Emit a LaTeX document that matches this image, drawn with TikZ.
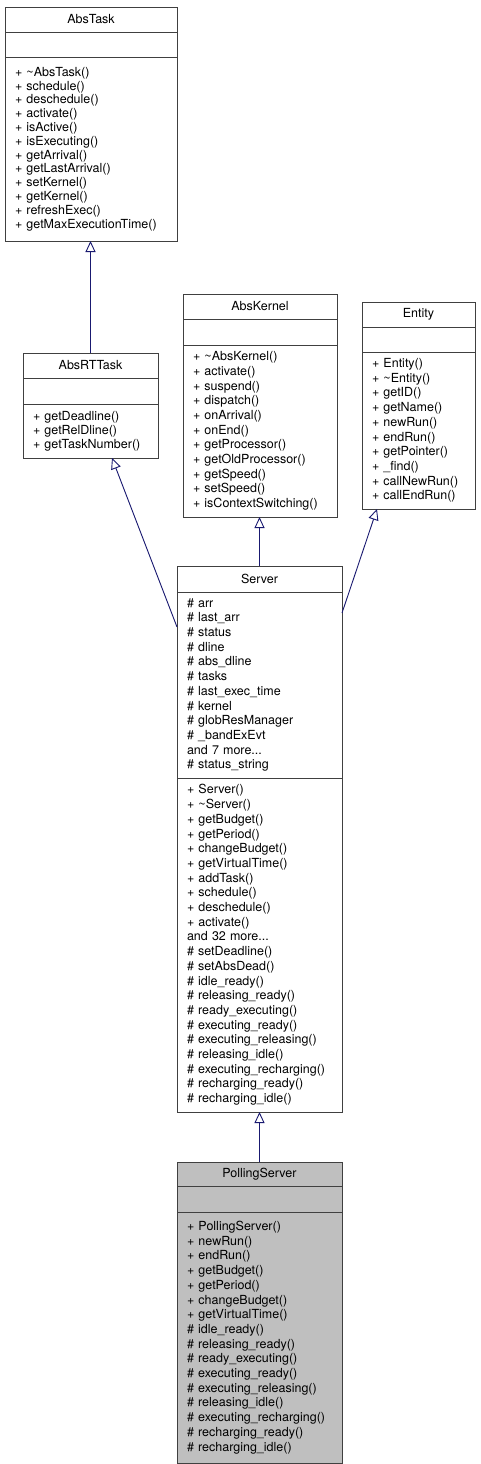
\documentclass[tikz,border=0pt]{standalone}
\usepackage{fontspec}
\setmainfont{TeX Gyre Heros}
\usetikzlibrary{arrows.meta, positioning, calc}
\definecolor{edgeblue}{HTML}{191970}
\definecolor{boxline}{HTML}{404040}
\definecolor{hilite}{HTML}{BFBFBF}
\tikzstyle{classbox} = [rectangle, draw=boxline, line width=0.9pt, fill=white, outer sep=0pt, inner xsep=10pt, inner ysep=0pt, font=\fontsize{12.5}{14.7}\selectfont]
\tikzstyle{classhead} = [classbox, align=center]
\tikzstyle{classbody} = [classbox, align=left]
\tikzstyle{inherit} = [edgeblue, line width=0.9pt, -{Triangle[open, length=11pt, width=10pt]}]

\begin{document}
\begin{tikzpicture}[x=1pt, y=-1pt]
  \useasboundingbox (0,0) rectangle (480,1464);

  % AbsTask
  \node[classhead, anchor=north west, minimum width=172pt, minimum height=25pt] (abstask) at (5,7) {AbsTask};
  \node[classbody, minimum width=172pt, minimum height=25pt, below=0pt of abstask] (abstask-attr) {};
  \node[classbody, text width=152pt, minimum height=184pt, font=\fontsize{12.5}{13.8}\selectfont, below=0pt of abstask-attr] (abstask-ops)
    {+ \textasciitilde AbsTask()\\+ schedule()\\+ deschedule()\\+ activate()\\+ isActive()\\+ isExecuting()\\+ getArrival()\\+ getLastArrival()\\+ setKernel()\\+ getKernel()\\+ refreshExec()\\+ getMaxExecutionTime()};

  % AbsRTTask
  \node[classhead, anchor=north west, minimum width=135pt, minimum height=25pt] (absrttask) at (23,353) {AbsRTTask};
  \node[classbody, minimum width=135pt, minimum height=26pt, below=0pt of absrttask] (absrttask-attr) {};
  \node[classbody, text width=115pt, minimum height=54pt, font=\fontsize{12.5}{14}\selectfont, below=0pt of absrttask-attr] (absrttask-ops)
    {+ getDeadline()\\+ getRelDline()\\+ getTaskNumber()};

  % AbsKernel
  \node[classhead, anchor=north west, minimum width=154pt, minimum height=25pt] (abskernel) at (183,294) {AbsKernel};
  \node[classbody, minimum width=154pt, minimum height=26pt, below=0pt of abskernel] (abskernel-attr) {};
  \node[classbody, text width=134pt, minimum height=172pt, below=0pt of abskernel-attr] (abskernel-ops)
    {+ \textasciitilde AbsKernel()\\+ activate()\\+ suspend()\\+ dispatch()\\+ onArrival()\\+ onEnd()\\+ getProcessor()\\+ getOldProcessor()\\+ getSpeed()\\+ setSpeed()\\+ isContextSwitching()};

  % Entity
  \node[classhead, anchor=north west, minimum width=113pt, minimum height=25pt] (entity) at (362,302) {Entity};
  \node[classbody, minimum width=113pt, minimum height=25pt, below=0pt of entity] (entity-attr) {};
  \node[classbody, text width=93pt, minimum height=157pt, below=0pt of entity-attr] (entity-ops)
    {+ Entity()\\+ \textasciitilde Entity()\\+ getID()\\+ getName()\\+ newRun()\\+ endRun()\\+ getPointer()\\+ \_find()\\+ callNewRun()\\+ callEndRun()};

  % Server
  \node[classhead, anchor=north west, minimum width=165pt, minimum height=26pt] (server) at (177,566) {Server};
  \node[classbody, text width=145pt, minimum height=186pt, below=0pt of server] (server-attr)
    {\# arr\\\# last\_arr\\\# status\\\# dline\\\# abs\_dline\\\# tasks\\\# last\_exec\_time\\\# kernel\\\# globResManager\\\# \_bandExEvt\\and 7 more...\\\# status\_string};
  \node[classbody, text width=145pt, minimum height=334pt, below=0pt of server-attr] (server-ops)
    {+ Server()\\+ \textasciitilde Server()\\+ getBudget()\\+ getPeriod()\\+ changeBudget()\\+ getVirtualTime()\\+ addTask()\\+ schedule()\\+ deschedule()\\+ activate()\\and 32 more...\\\# setDeadline()\\\# setAbsDead()\\\# idle\_ready()\\\# releasing\_ready()\\\# ready\_executing()\\\# executing\_ready()\\\# executing\_releasing()\\\# releasing\_idle()\\\# executing\_recharging()\\\# recharging\_ready()\\\# recharging\_idle()};

  % PollingServer
  \node[classhead, fill=hilite, anchor=north west, minimum width=165pt, minimum height=24pt] (pollingserver) at (177,1162) {PollingServer};
  \node[classbody, fill=hilite, minimum width=165pt, minimum height=26pt, below=0pt of pollingserver] (pollingserver-attr) {};
  \node[classbody, fill=hilite, text width=145pt, minimum height=251pt, below=0pt of pollingserver-attr] (pollingserver-ops)
    {+ PollingServer()\\+ newRun()\\+ endRun()\\+ getBudget()\\+ getPeriod()\\+ changeBudget()\\+ getVirtualTime()\\\# idle\_ready()\\\# releasing\_ready()\\\# ready\_executing()\\\# executing\_ready()\\\# executing\_releasing()\\\# releasing\_idle()\\\# executing\_recharging()\\\# recharging\_ready()\\\# recharging\_idle()};

  % inheritance
  \draw[inherit] (absrttask.north) -- (abstask-ops.south -| absrttask.north);
  \draw[inherit] ($(server-attr.north west)+(0,35)$) -- ($(absrttask-ops.south)+(21.5,0)$);
  \draw[inherit] (server.north) -- (server.north |- abskernel-ops.south);
  \draw[inherit] ($(server-attr.north east)+(0,21)$) -- ($(entity-ops.south)+(-41.5,0)$);
  \draw[inherit] (pollingserver.north) -- (server-ops.south);
\end{tikzpicture}
\end{document}
